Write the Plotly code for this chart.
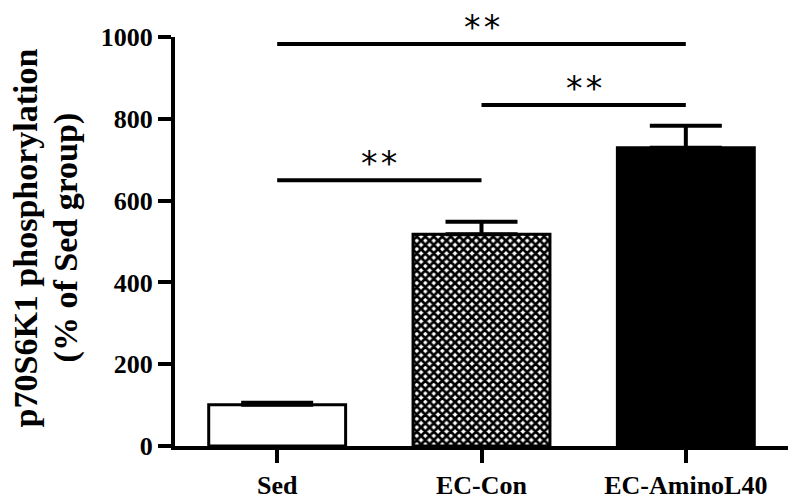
import plotly.graph_objects as go

categories = ["Sed", "EC-Con", "EC-AminoL40"]
means = [101, 518, 729]
sems = [5, 30, 54]
y_ticks = [0, 200, 400, 600, 800, 1000]

# significance brackets: (from category index, to category index, height, label)
bracket_from = [0, 1, 0]
bracket_to = [2, 2, 1]
bracket_height = [983, 834, 650]
bracket_label = ["**", "**", "**"]

serif = "Liberation Serif"
fills = ["white", "white", "black"]
patterns = ["", "x", ""]

fig = go.Figure()
for cat, m, s, fc, pat in zip(categories, means, sems, fills, patterns):
    marker = dict(color=fc, line=dict(color="black", width=3))
    if pat:
        marker["pattern"] = dict(shape=pat, fgcolor="black", bgcolor="white",
                                 size=6, solidity=0.7, fillmode="replace")
    fig.add_trace(go.Bar(
        x=[cat], y=[m], width=0.67, marker=marker,
        error_y=dict(type="data", symmetric=False, array=[s], arrayminus=[0],
                     color="black", thickness=4, width=36),
        showlegend=False,
    ))

for a, b, h, lab in zip(bracket_from, bracket_to, bracket_height, bracket_label):
    fig.add_shape(type="line", xref="x", yref="y",
                  x0=categories[a], x1=categories[b], y0=h, y1=h,
                  line=dict(color="black", width=4))
    fig.add_annotation(x=(a + b) / 2, y=h, xref="x", yref="y",
                       text=lab[0] + "\u200a" + lab[1], showarrow=False,
                       font=dict(family="DejaVu Sans", size=33, color="black"),
                       yanchor="bottom", yshift=-4, borderpad=0)

fig.add_annotation(x=-0.2447, y=0.51, xref="paper", yref="paper",
                   text="<b>p70S6K1 phosphorylation</b>", textangle=-90,
                   showarrow=False, xanchor="center", yanchor="middle", borderpad=0,
                   font=dict(family=serif, size=34, color="black"))
fig.add_annotation(x=-0.1778, y=0.51, xref="paper", yref="paper",
                   text="<b>(% of Sed group)</b>", textangle=-90,
                   showarrow=False, xanchor="center", yanchor="middle", borderpad=0,
                   font=dict(family=serif, size=34, color="black"))

axis_common = dict(
    showline=True, linecolor="black", linewidth=4,
    ticks="outside", ticklen=13, tickwidth=4, tickcolor="black",
    tickfont=dict(family=serif, size=26, color="black", weight="bold"),
    showgrid=False, zeroline=False, automargin=False,
)

fig.update_layout(
    width=796, height=500,
    margin=dict(l=175, r=8, t=37, b=54),
    paper_bgcolor="white", plot_bgcolor="white",
    barmode="overlay",
    hovermode=False,
    xaxis=dict(range=[-0.5, 2.5], **axis_common),
    yaxis=dict(range=[0, 1000], tickvals=y_ticks, **axis_common),
)

fig.write_html("out.html",
               config={"displayModeBar": False, "staticPlot": True},
               post_script="document.body.style.margin='0px';document.body.style.overflow='hidden';")
